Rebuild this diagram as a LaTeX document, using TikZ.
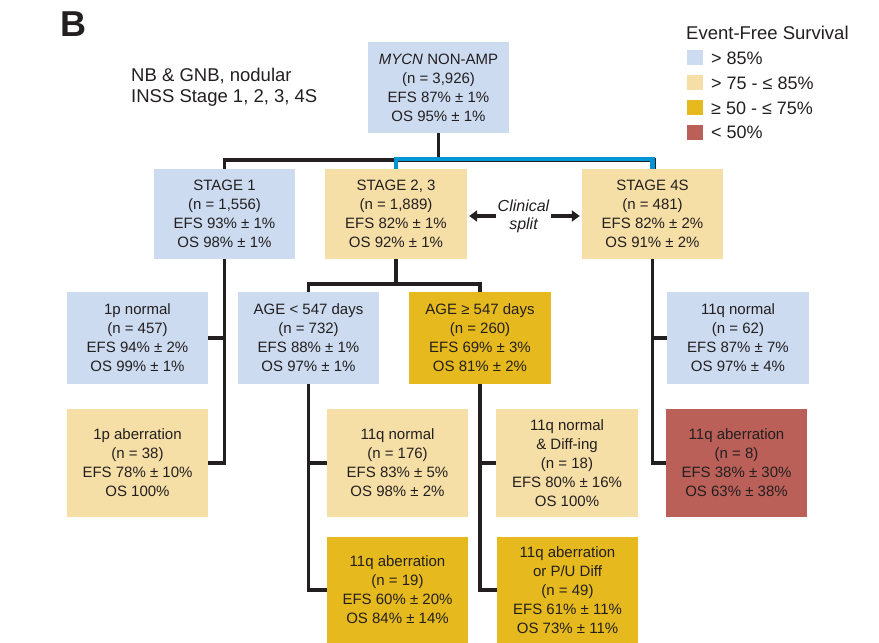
\documentclass[tikz,border=0pt]{standalone}
\usepackage{fontspec}
\setmainfont{Liberation Sans}
\usetikzlibrary{arrows.meta}
\definecolor{lb}{RGB}{204,219,240}
\definecolor{ly}{RGB}{245,223,166}
\definecolor{gd}{RGB}{230,186,30}
\definecolor{rd}{RGB}{186,96,88}
\definecolor{bl}{RGB}{0,150,214}
\definecolor{ink}{RGB}{35,31,32}
\begin{document}
\begin{tikzpicture}[x=1pt,y=-1pt,
  box/.style={inner sep=0pt, align=center, text=ink, minimum width=141pt,
    font=\fontsize{15}{19}\selectfont},
  rowa/.style={box, minimum height=91pt},
  rowb/.style={box, minimum height=90pt},
  rowc/.style={box, minimum height=92pt},
  rowd/.style={box, minimum height=108pt},
  rowe/.style={box, minimum height=106pt},
  conn/.style={draw=ink, line width=3.8pt},
  blueconn/.style={draw=bl, line width=4.8pt},
  arr/.style={draw=ink, line width=3.8pt, -{Triangle[length=8pt,width=11pt]}},
  legsq/.style={inner sep=0pt, minimum width=16pt, minimum height=15pt},
  legtxt/.style={inner sep=0pt, anchor=base west, text=ink, font=\fontsize{18}{21}\selectfont},
]
\useasboundingbox (0,0) rectangle (879,643);

% title and caption
\node[inner sep=0pt, anchor=base west, text=ink, font=\fontsize{36}{40}\selectfont\bfseries] (lblB) at (60.5,36) {B};
\node[legtxt, font=\fontsize{18.5}{21}\selectfont] (cap1) at (131,81) {NB \& GNB, nodular};
\node[legtxt, font=\fontsize{18.5}{21}\selectfont] (cap2) at (131,102) {INSS Stage 1, 2, 3, 4S};

% legend
\node[legtxt, font=\fontsize{18.5}{21}\selectfont] (legt) at (686,39) {Event-Free Survival};
\node[legsq, fill=lb] (lq1) at (695,57.5) {};
\node[legsq, fill=ly] (lq2) at (695,82) {};
\node[legsq, fill=gd] (lq3) at (695,107) {};
\node[legsq, fill=rd] (lq4) at (695,132) {};
\node[legtxt] (lt1) at (711,64.5) {> 85\%};
\node[legtxt] (lt2) at (711,89) {> 75 - ≤ 85\%};
\node[legtxt] (lt3) at (711,114) {≥ 50 - ≤ 75\%};
\node[legtxt] (lt4) at (711,138.5) {< 50\%};

% boxes
\node[rowa, fill=lb] (mycn) at (438.5,87.5) {\textit{MYCN} NON-AMP\\(n = 3,926)\\EFS 87\% ± 1\%\\OS 95\% ± 1\%};
\node[rowb, fill=lb] (s1) at (224.5,214) {STAGE 1\\(n = 1,556)\\EFS 93\% ± 1\%\\OS 98\% ± 1\%};
\node[rowb, fill=ly, minimum width=142pt] (s23) at (396,214) {STAGE 2, 3\\(n = 1,889)\\EFS 82\% ± 1\%\\OS 92\% ± 1\%};
\node[rowb, fill=ly] (s4) at (652.5,214) {STAGE 4S\\(n = 481)\\EFS 82\% ± 2\%\\OS 91\% ± 2\%};

\node[rowc, fill=lb] (p1n) at (137.5,338) {1p normal\\(n = 457)\\EFS 94\% ± 2\%\\OS 99\% ± 1\%};
\node[rowc, fill=lb] (ageL) at (308.5,338) {AGE < 547 days\\(n = 732)\\EFS 88\% ± 1\%\\OS 97\% ± 1\%};
\node[rowc, fill=gd, minimum width=142pt] (ageH) at (480,338) {AGE ≥ 547 days\\(n = 260)\\EFS 69\% ± 3\%\\OS 81\% ± 2\%};
\node[rowc, fill=lb, minimum width=142pt] (q4n) at (738,338) {11q normal\\(n = 62)\\EFS 87\% ± 7\%\\OS 97\% ± 4\%};

\node[rowd, fill=ly] (p1a) at (137.5,463) {1p aberration\\(n = 38)\\EFS 78\% ± 10\%\\OS 100\%};
\node[rowd, fill=ly] (q176) at (397.5,463) {11q normal\\(n = 176)\\EFS 83\% ± 5\%\\OS 98\% ± 2\%};
\node[rowd, fill=ly, minimum width=142pt] (qdiff) at (567,463) {11q normal\\\& Diff-ing\\(n = 18)\\EFS 80\% ± 16\%\\OS 100\%};
\node[rowd, fill=rd] (q8) at (736.5,463) {11q aberration\\(n = 8)\\EFS 38\% ± 30\%\\OS 63\% ± 38\%};

\node[rowe, fill=gd] (q19) at (397.5,590) {11q aberration\\(n = 19)\\EFS 60\% ± 20\%\\OS 84\% ± 14\%};
\node[rowe, fill=gd] (qpu) at (567.5,590) {11q aberration\\or P/U Diff\\(n = 49)\\EFS 61\% ± 11\%\\OS 73\% ± 11\%};

% clinical split
\node[inner sep=1.5pt, align=center, text=ink, font=\fontsize{16}{18}\selectfont\itshape] (clin) at (523.5,216) {Clinical\\split};
\draw[arr, shorten >=2pt] (clin.west) -- (s23.east |- clin.west);
\draw[arr, shorten >=2pt] (clin.east) -- (s4.west |- clin.east);

% connectors
\coordinate (j1) at (438.5,160);
\coordinate (j2) at (396,284);
\coordinate (j3) at (500,159);
\draw[conn] (mycn.south) -- (j1);
\draw[conn] (s1.north) |- (j1) -| ([xshift=2pt]s4.north);
\draw[blueconn] (s23.north) |- (j3) -| (s4.north);

\draw[conn] (p1a.east) -| (s1.south);
\draw[conn] (p1n.east) -- (p1n.east -| s1.south);

\draw[conn] (s23.south) -- (j2);
\draw[conn] (ageL.north) |- (j2) -| (ageH.north);

\draw[conn] (q19.west) -| (ageL.south);
\draw[conn] (q176.west) -- (q176.west -| ageL.south);
\draw[conn] (qpu.west) -| (ageH.south);
\draw[conn] (qdiff.west) -- (qdiff.west -| ageH.south);

\draw[conn] (q8.west) -| (s4.south);
\draw[conn] (q4n.west) -- (q4n.west -| s4.south);
\end{tikzpicture}
\end{document}
